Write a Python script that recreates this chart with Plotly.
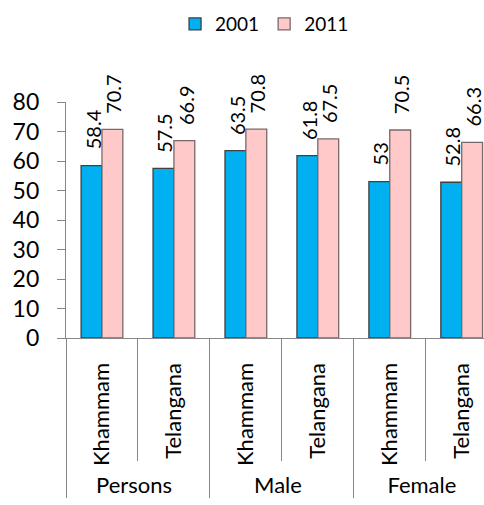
import plotly.graph_objects as go

groups = ["Persons", "Persons", "Male", "Male", "Female", "Female"]
regions = ["Khammam", "Telangana", "Khammam", "Telangana", "Khammam", "Telangana"]
series_names = ["2001", "2011"]
values_2001 = [58.4, 57.5, 63.5, 61.8, 53, 52.8]
values_2011 = [70.7, 66.9, 70.8, 67.5, 70.5, 66.3]
y_ticks = [0, 10, 20, 30, 40, 50, 60, 70, 80]

FONT = "Lato"
BARGAP = 0.42
x = [groups, regions]

fig = go.Figure()
fig.add_trace(go.Bar(
    x=x, y=values_2001, name=series_names[0],
    marker=dict(color="#00b0f0", line=dict(color="#404040", width=1.3)),
))
fig.add_trace(go.Bar(
    x=x, y=values_2011, name=series_names[1],
    marker=dict(color="#ffc9c9", line=dict(color="#7a6868", width=1.3)),
))

# data labels, rotated, above each bar
half = (1 - BARGAP) / 4
for vals, off in [(values_2001, -half), (values_2011, half)]:
    for i, v in enumerate(vals):
        fig.add_annotation(
            x=i + off, y=v, xref="x", yref="y",
            text=f"{v:g}", showarrow=False, textangle=-90,
            xanchor="center", yanchor="bottom", yshift=14, xshift=1,
            font=dict(family=FONT, size=20, color="#000000"),
        )

fig.update_layout(
    width=484, height=505,
    margin=dict(l=66, r=0, t=102, b=167),
    paper_bgcolor="white", plot_bgcolor="white",
    barmode="group", bargap=BARGAP, bargroupgap=0,
    font=dict(family=FONT, size=19, color="#000000"),
    showlegend=True,
    legend=dict(orientation="h", x=0.475, xanchor="center", y=0.99, yref="container",
                yanchor="top", font=dict(family=FONT, size=19),
                itemwidth=30, traceorder="normal"),
)
fig.update_yaxes(
    range=[0, 80], tickvals=y_ticks, showgrid=False, zeroline=False,
    showline=True, linecolor="#868686", linewidth=1.3,
    ticks="outside", ticklen=8, tickcolor="#868686", ticklabelstandoff=13,
    tickfont=dict(family=FONT, size=23, color="#000000"), automargin=False,
)
fig.update_xaxes(
    type="multicategory", range=[-0.5, 5.31],
    showline=True, linecolor="#868686", linewidth=1.3,
    ticks="outside", ticklen=122, tickcolor="#868686", tickson="boundaries",
    showdividers=True, dividercolor="#868686", dividerwidth=1.3,
    tickangle=-90, tickfont=dict(family=FONT, size=22, color="#000000"),
    ticklabelstandoff=15,
    showgrid=False, automargin=False,
)

# remove the browser's default 8px page margin so the figure sits at the window's corner
fig.write_html(
    "out.html",
    config={"responsive": False, "displayModeBar": False},
    post_script="document.body.style.margin='0';document.body.style.overflow='hidden';",
)
